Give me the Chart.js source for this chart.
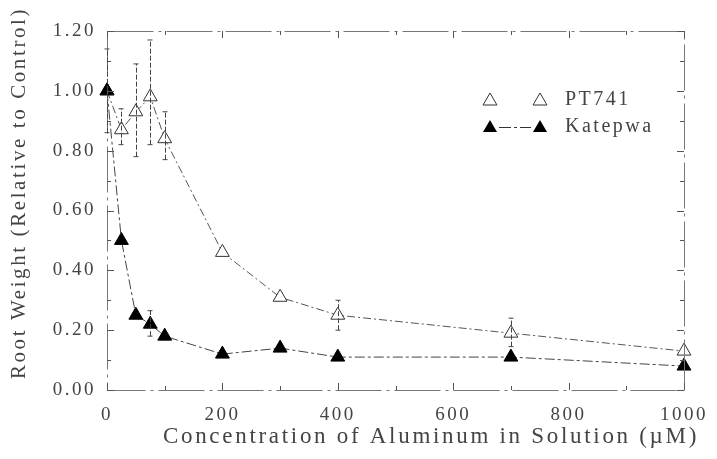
<!DOCTYPE html>
<html>
<head>
<meta charset="utf-8">
<script src="https://cdn.jsdelivr.net/npm/chart.js@4.4.0/dist/chart.umd.min.js"></script>
<style>
  html, body { margin: 0; padding: 0; background: #fff; }
  #wrap { width: 717px; height: 459px; position: relative; }
</style>
</head>
<body>
<div id="wrap"><canvas id="rootChart"></canvas></div>
<script>
// data
const concentrations = [0, 25, 50, 75, 100, 200, 300, 400, 700, 1000];
const pt741 = [1.00, 0.87, 0.93, 0.98, 0.84, 0.46, 0.31, 0.25, 0.19, 0.13];
const pt741Low = [0.86, 0.82, 0.78, 0.82, 0.77, null, null, 0.20, 0.145, null];
const pt741High = [1.14, 0.94, 1.09, 1.17, 0.93, null, null, 0.30, 0.24, null];
const katepwa = [1.00, 0.50, 0.25, 0.22, 0.18, 0.12, 0.14, 0.11, 0.11, 0.08];
const katepwaLow = [null, null, null, 0.18, null, null, null, null, null, null];
const katepwaHigh = [null, null, null, 0.265, null, null, null, null, null, null];
const yTicks = [0, 0.2, 0.4, 0.6, 0.8, 1.0, 1.2];
const xTicks = [0, 200, 400, 600, 800, 1000];

const FONT = "'Liberation Serif', 'DejaVu Serif', serif";
const INK = '#444444';

function toPoints(ys) {
    return concentrations.map(function(x, i) { return { x: x, y: ys[i] }; });
}

// frame, inward ticks, error bars, titles and legend
const decorations = {
    id: 'decorations',
    beforeDraw: function(chart) {
        chart.ctx.letterSpacing = '2.5px';
    },
    afterDatasetsDraw: function(chart) {
        const ctx = chart.ctx;
        const a = chart.chartArea;
        const xs = chart.scales.x;
        const ys = chart.scales.y;
        ctx.save();

        // frame
        ctx.strokeStyle = '#777';
        ctx.lineWidth = 1;
        ctx.setLineDash([46, 5, 3, 5]);
        ctx.strokeRect(a.left + 0.5, a.top + 0.5, a.width, a.height);
        ctx.setLineDash([]);

        // inward ticks
        ctx.strokeStyle = '#555';
        for (let v = 0; v <= 1.2001; v += 0.1) {
            const y = Math.round(ys.getPixelForValue(v)) + 0.5;
            const len = (Math.round(v * 10) % 2 === 0) ? 7 : 4;
            ctx.beginPath();
            ctx.moveTo(a.left, y); ctx.lineTo(a.left + len, y);
            ctx.moveTo(a.right, y); ctx.lineTo(a.right - len, y);
            ctx.stroke();
        }
        for (let v = 0; v <= 1000; v += 100) {
            const x = Math.round(xs.getPixelForValue(v)) + 0.5;
            const len = (v % 200 === 0) ? 7 : 4;
            ctx.beginPath();
            ctx.moveTo(x, a.bottom); ctx.lineTo(x, a.bottom - len);
            ctx.moveTo(x, a.top); ctx.lineTo(x, a.top + len);
            ctx.stroke();
        }

        // error bars
        function bars(low, high) {
            concentrations.forEach(function(c, i) {
                if (low[i] === null) return;
                const x = Math.round(xs.getPixelForValue(c)) + 0.5;
                const y1 = ys.getPixelForValue(low[i]);
                const y2 = ys.getPixelForValue(high[i]);
                ctx.beginPath();
                ctx.moveTo(x, y1); ctx.lineTo(x, y2);
                ctx.moveTo(x - 3, y1); ctx.lineTo(x + 3, y1);
                ctx.moveTo(x - 3, y2); ctx.lineTo(x + 3, y2);
                ctx.stroke();
            });
        }
        ctx.strokeStyle = '#444';
        ctx.setLineDash([5, 2]);
        bars(pt741Low, pt741High);
        bars(katepwaLow, katepwaHigh);
        ctx.setLineDash([]);

        // axis titles
        ctx.fillStyle = INK;
        ctx.textAlign = 'center';
        ctx.textBaseline = 'middle';
        ctx.letterSpacing = '2.7px';
        ctx.font = '23px ' + FONT;
        ctx.fillText('Concentration of Aluminum in Solution (\u00B5M)', 431, 437);
        ctx.letterSpacing = '2.6px';
        ctx.font = '21px ' + FONT;
        ctx.save();
        ctx.translate(19, 193);
        ctx.rotate(-Math.PI / 2);
        ctx.fillText('Root Weight (Relative to Control)', 0, 0);
        ctx.restore();

        // legend
        function tri(x, y, filled) {
            ctx.beginPath();
            ctx.moveTo(x, y - 7);
            ctx.lineTo(x + 7, y + 5);
            ctx.lineTo(x - 7, y + 5);
            ctx.closePath();
            if (filled) { ctx.fillStyle = '#000'; ctx.fill(); }
            else { ctx.strokeStyle = '#333'; ctx.lineWidth = 1; ctx.stroke(); }
        }
        tri(490, 100, false);
        tri(540, 100, false);
        tri(490, 127, true);
        tri(540, 127, true);
        ctx.strokeStyle = '#333';
        ctx.setLineDash([12, 3, 3, 3]);
        ctx.beginPath();
        ctx.moveTo(499, 127.5); ctx.lineTo(531, 127.5);
        ctx.stroke();
        ctx.setLineDash([]);
        ctx.fillStyle = INK;
        ctx.letterSpacing = '2.5px';
        ctx.font = '20px ' + FONT;
        ctx.textAlign = 'left';
        ctx.fillText('PT741', 565, 100);
        ctx.fillText('Katepwa', 565, 127);

        ctx.restore();
    }
};

const config = {
    type: 'line',
    data: {
        datasets: [{
            label: 'PT741',
            data: toPoints(pt741),
            order: 1,
            borderColor: '#555',
            borderWidth: 1,
            borderDash: [8, 3, 2, 3],
            pointStyle: 'triangle',
            pointRadius: 8,
            pointBackgroundColor: '#fff',
            pointBorderColor: '#333',
            pointBorderWidth: 1,
            tension: 0,
            clip: false
        }, {
            label: 'Katepwa',
            data: toPoints(katepwa),
            order: 0,
            borderColor: '#444',
            borderWidth: 1,
            borderDash: [10, 3, 3, 3],
            pointStyle: 'triangle',
            pointRadius: 8,
            pointBackgroundColor: '#000',
            pointBorderColor: '#000',
            pointBorderWidth: 1,
            tension: 0,
            clip: false
        }]
    },
    options: {
        responsive: true,
        maintainAspectRatio: false,
        animation: false,
        layout: { padding: { left: 0, top: 31, right: 28, bottom: 0 } },
        plugins: {
            legend: { display: false },
            tooltip: { enabled: false }
        },
        scales: {
            x: {
                type: 'linear',
                min: 0,
                max: 1000,
                afterFit: function(scale) { scale.height = 69; },
                afterBuildTicks: function(scale) {
                    scale.ticks = xTicks.map(function(v) { return { value: v }; });
                },
                grid: { display: false, drawTicks: false },
                border: { display: false },
                ticks: {
                    color: INK,
                    padding: 14,
                    maxRotation: 0,
                    font: { family: FONT, size: 19 },
                    callback: function(value) { return String(value); }
                }
            },
            y: {
                min: 0,
                max: 1.2,
                afterFit: function(scale) { scale.width = 107; },
                afterBuildTicks: function(scale) {
                    scale.ticks = yTicks.map(function(v) { return { value: v }; });
                },
                grid: { display: false, drawTicks: false },
                border: { display: false },
                ticks: {
                    color: INK,
                    padding: 11,
                    font: { family: FONT, size: 19 },
                    callback: function(value) { return value.toFixed(2); }
                }
            }
        }
    },
    plugins: [decorations]
};

new Chart(document.getElementById('rootChart').getContext('2d'), config);
</script>
</body>
</html>
